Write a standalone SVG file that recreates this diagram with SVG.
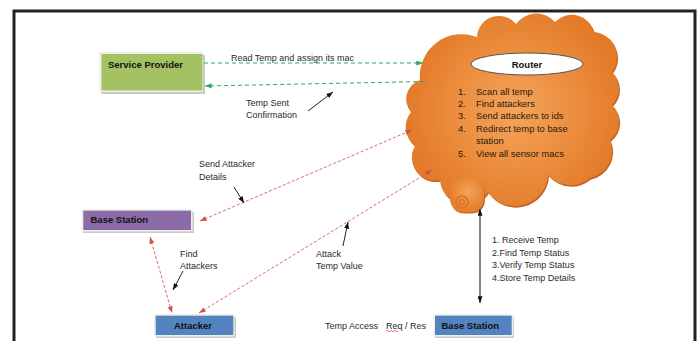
<svg xmlns="http://www.w3.org/2000/svg" width="699" height="341" viewBox="0 0 699 341">
<defs>
<style>
.t{font-family:"Liberation Sans",Arial,sans-serif;font-size:9px;fill:#2b2b2b}
.tl{font-family:"Liberation Sans",Arial,sans-serif;font-size:9.4px;fill:#2a1a0a}
.b{font-family:"Liberation Sans",Arial,sans-serif;font-size:9.5px;font-weight:bold;fill:#111}
.g{stroke:#2eaa5a;stroke-width:1;fill:none;stroke-dasharray:4 3}
.r{stroke:#dd6a66;stroke-width:1;fill:none;stroke-dasharray:3 2}
.k{stroke:#222;stroke-width:1;fill:none}
.sh{fill:#c9c9c9}
.edge{fill:#eef0ea}
</style>
<marker id="ag" viewBox="0 0 8 6" refX="8" refY="3" markerWidth="7" markerHeight="5" markerUnits="userSpaceOnUse" orient="auto-start-reverse"><path d="M0,0 L8,3 L0,6 z" fill="#2eaa5a"/></marker>
<marker id="ar" viewBox="0 0 8 6" refX="8" refY="3" markerWidth="7" markerHeight="5" markerUnits="userSpaceOnUse" orient="auto-start-reverse"><path d="M0,0 L8,3 L0,6 z" fill="#d2504c"/></marker>
<marker id="ak" viewBox="0 0 8 6" refX="8" refY="3" markerWidth="7" markerHeight="5" markerUnits="userSpaceOnUse" orient="auto-start-reverse"><path d="M0,0 L8,3 L0,6 z" fill="#111"/></marker>
<radialGradient id="cg" gradientUnits="userSpaceOnUse" cx="515" cy="110" r="110">
<stop offset="0" stop-color="#f4a45c"/>
<stop offset="0.55" stop-color="#ec8d3e"/>
<stop offset="1" stop-color="#e27a28"/>
</radialGradient>
<radialGradient id="kg" gradientUnits="userSpaceOnUse" cx="468" cy="192" r="18">
<stop offset="0" stop-color="#f4a35a"/>
<stop offset="1" stop-color="#e4802e"/>
</radialGradient>
</defs>

<path d="M14,345 V11 H695 V345" fill="none" stroke="#222" stroke-width="3"/>

<g id="router">
<path transform="translate(1,1.5)" fill="#c4621f" d="M420,80 A42,42 0 0 1 477,37 A22,22 0 0 1 516,24 A25,25 0 0 1 555,22 A23,23 0 0 1 594,32 A25,25 0 0 1 612,72 A23,23 0 0 1 612,105 A23,23 0 0 1 610,140 A28,28 0 0 1 590,178 A30,30 0 0 1 548,175 A33,33 0 0 1 488,192 A26,26 0 0 1 440,180 A23,23 0 0 1 415,146 A24,24 0 0 1 411,112 A20,20 0 0 1 420,80 Z"/>
<path fill="url(#cg)" d="M420,80 A42,42 0 0 1 477,37 A22,22 0 0 1 516,24 A25,25 0 0 1 555,22 A23,23 0 0 1 594,32 A25,25 0 0 1 612,72 A23,23 0 0 1 612,105 A23,23 0 0 1 610,140 A28,28 0 0 1 590,178 A30,30 0 0 1 548,175 A33,33 0 0 1 488,192 A26,26 0 0 1 440,180 A23,23 0 0 1 415,146 A24,24 0 0 1 411,112 A20,20 0 0 1 420,80 Z"/>
<rect x="451" y="179.5" width="34" height="34" rx="13" fill="#cf6a22"/>
<rect x="450" y="178" width="34" height="34" rx="13" fill="url(#kg)"/>
<circle cx="462" cy="202" r="6" fill="none" stroke="#d9712a" stroke-width="1.5"/>
<circle cx="462" cy="202" r="2.5" fill="none" stroke="#d9712a" stroke-width="1.2"/>
<ellipse cx="527" cy="64" rx="56" ry="11" fill="#fff" stroke="#555" stroke-width="1"/>
<text class="b" x="527" y="67.5" text-anchor="middle">Router</text>
<text class="tl" x="458" y="94.6">1.</text><text class="tl" x="476" y="94.6">Scan all temp</text>
<text class="tl" x="458" y="106.8">2.</text><text class="tl" x="476" y="106.8">Find attackers</text>
<text class="tl" x="458" y="119.3">3.</text><text class="tl" x="476" y="119.3">Send attackers to ids</text>
<text class="tl" x="458" y="131.7">4.</text><text class="tl" x="476" y="131.7">Redirect temp to base</text>
<text class="tl" x="476" y="144">station</text>
<text class="tl" x="458" y="157">5.</text><text class="tl" x="476" y="157">View all sensor macs</text>
</g>

<g id="service-provider">
<rect class="sh" x="101" y="55" width="104" height="39"/>
<rect class="edge" x="99" y="52" width="104" height="40"/>
<rect x="101.5" y="54" width="101" height="36.5" fill="#a5c263"/>
<text class="b" x="108" y="67.5">Service Provider</text>
</g>

<g id="base-station-left">
<rect class="sh" x="83" y="212" width="111" height="21"/>
<rect class="edge" x="81.5" y="209" width="111" height="22.5"/>
<rect x="83.3" y="210.7" width="107.7" height="19.3" fill="#8b6ba8"/>
<text class="b" x="90.5" y="222.8">Base Station</text>
</g>

<g id="attacker">
<rect class="sh" x="156" y="317" width="80" height="21"/>
<rect class="edge" x="154" y="314" width="80.5" height="22.5"/>
<rect x="155.7" y="315.7" width="77.6" height="19.3" fill="#5383c0"/>
<text class="b" x="193" y="328.8" text-anchor="middle">Attacker</text>
</g>

<g id="base-station-right">
<rect class="sh" x="435" y="317" width="79" height="21"/>
<rect class="edge" x="433.3" y="314" width="80" height="22.5"/>
<rect x="435" y="315.7" width="76.7" height="19.3" fill="#5383c0"/>
<text class="b" x="441.5" y="328.8">Base Station</text>
</g>

<g id="connectors">
<line class="g" x1="204" y1="63" x2="423" y2="63" marker-end="url(#ag)"/>
<line class="g" x1="424" y1="81.5" x2="205" y2="86" marker-end="url(#ag)"/>
<line class="r" x1="200" y1="221" x2="412" y2="130" marker-start="url(#ar)" marker-end="url(#ar)"/>
<line class="r" x1="199" y1="313" x2="432" y2="170" marker-start="url(#ar)" marker-end="url(#ar)"/>
<line class="r" x1="150" y1="237" x2="172" y2="313" marker-start="url(#ar)" marker-end="url(#ar)"/>
<line x1="480" y1="209" x2="480" y2="303" stroke="#333" stroke-width="1.2" marker-start="url(#ak)" marker-end="url(#ak)"/>
<line class="k" x1="308" y1="111" x2="333" y2="92" marker-end="url(#ak)"/>
<line class="k" x1="234" y1="187" x2="244" y2="203" marker-end="url(#ak)"/>
<line class="k" x1="183" y1="271" x2="173" y2="290" marker-end="url(#ak)"/>
<line class="k" x1="343" y1="246" x2="348" y2="222" marker-end="url(#ak)"/>
</g>

<g id="labels">
<text class="t" x="231" y="60.5">Read Temp and assign its mac</text>
<text class="t" x="246" y="106">Temp Sent</text>
<text class="t" x="246" y="118">Confirmation</text>
<text class="t" x="199" y="167">Send Attacker</text>
<text class="t" x="199" y="180">Details</text>
<text class="t" x="180" y="256.5">Find</text>
<text class="t" x="180" y="269">Attackers</text>
<text class="t" x="316" y="256.5">Attack</text>
<text class="t" x="316" y="269">Temp Value</text>
<text class="t" x="492" y="243">1. Receive Temp</text>
<text class="t" x="492" y="255.5">2.Find Temp Status</text>
<text class="t" x="492" y="268">3.Verify Temp Status</text>
<text class="t" x="492" y="280.5">4.Store Temp Details</text>
<text class="t" x="325" y="328.5">Temp Access</text>
<text class="t" x="386" y="328.5">Req / Res</text>
<path d="M386,331 q1,-1.2 2,0 t2,0 t2,0 t2,0 t2,0 t2,0" fill="none" stroke="#e03030" stroke-width="0.7"/>
</g>
</svg>
